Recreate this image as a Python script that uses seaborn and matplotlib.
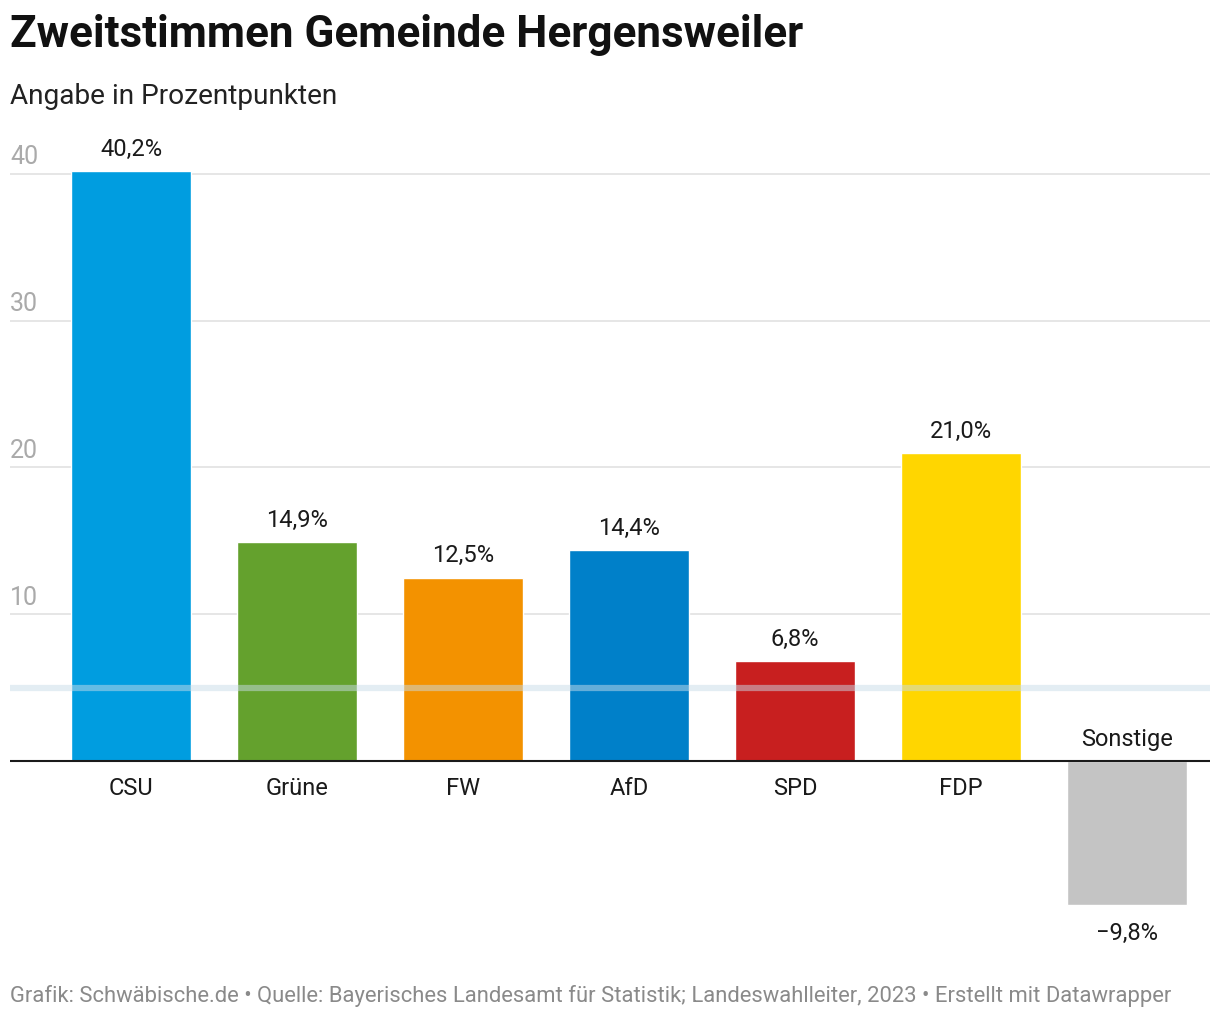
import pandas as pd
import matplotlib.pyplot as plt
import matplotlib.transforms as mtransforms
import seaborn as sns

parteien = ["CSU", "Grüne", "FW", "AfD", "SPD", "FDP", "Sonstige"]
werte = [40.2, 14.9, 12.5, 14.4, 6.8, 21.0, -9.8]
farben = ["#009de0", "#64a12d", "#f39200", "#0080c9", "#c81f1f", "#ffd600", "#c4c4c4"]
y_ticks = [10, 20, 30, 40]
schwelle = 5

df = pd.DataFrame({"partei": parteien, "wert": werte})

sns.set_style("white")
plt.rcParams["font.family"] = ["Roboto", "DejaVu Sans"]

fig = plt.figure(figsize=(12.2, 10.2), dpi=100)
ax = fig.add_axes([10 / 1220, 1 - 921.5 / 1020, 1200 / 1220, 767.5 / 1020])

sns.barplot(data=df, x="partei", y="wert", hue="partei",
            palette=dict(zip(parteien, farben)), width=0.723,
            legend=False, saturation=1, ax=ax, zorder=2)

ax.set_xlim(-0.729, 6.5)
ax.set_ylim(-10.87, 41.43)

# gridlines + labels inside, above the lines
ax.set_yticks(y_ticks)
ax.set_yticklabels([])
ax.tick_params(axis="y", length=0)
blend = mtransforms.blended_transform_factory(ax.transAxes, ax.transData)
shift = mtransforms.ScaledTranslation(0, 4 / 72, fig.dpi_scale_trans)
for t in y_ticks:
    ax.axhline(t, color="#e2e2e2", lw=1.2, zorder=0)
    ax.text(0, t, str(t), transform=blend + shift,
            fontsize=18, color="#aaaaaa", ha="left", va="bottom")

ax.axhline(0, color="#1a1a1a", lw=1.5, zorder=4)
ax.axhline(schwelle, color="#c9dce9", lw=4.5, alpha=0.5, zorder=3)

ax.set_xticks([])
ax.set_xlabel("")
ax.set_ylabel("")
for s in ax.spines.values():
    s.set_visible(False)

for i, (p, v) in enumerate(zip(parteien, werte)):
    lab = f"{abs(v):.1f}".replace(".", ",") + "%"
    if v < 0:
        lab = "\u2212" + lab
        ax.annotate(lab, (i, v), xytext=(0, -12), textcoords="offset points",
                    ha="center", va="top", fontsize=17, color="#1a1a1a")
        ax.annotate(p, (i, 0), xytext=(0, 8), textcoords="offset points",
                    ha="center", va="bottom", fontsize=17, color="#1a1a1a")
    else:
        ax.annotate(lab, (i, v), xytext=(0, 8), textcoords="offset points",
                    ha="center", va="bottom", fontsize=17, color="#1a1a1a")
        ax.annotate(p, (i, 0), xytext=(0, -11), textcoords="offset points",
                    ha="center", va="top", fontsize=17, color="#1a1a1a")

fig.text(10 / 1220, 1 - 14 / 1020, "Zweitstimmen Gemeinde Hergensweiler",
         fontsize=31.7, fontweight="bold", color="#111111", ha="left", va="top")
fig.text(10 / 1220, 1 - 83 / 1020, "Angabe in Prozentpunkten",
         fontsize=20.2, color="#222222", ha="left", va="top")
fig.text(10 / 1220, 1 - 985 / 1020,
         "Grafik: Schwäbische.de \u2022 Quelle: Bayerisches Landesamt für Statistik; Landeswahlleiter, 2023 \u2022 Erstellt mit Datawrapper",
         fontsize=15.85, color="#8a8a8a", ha="left", va="top")

fig.savefig("out.png", dpi=100, facecolor="white")
